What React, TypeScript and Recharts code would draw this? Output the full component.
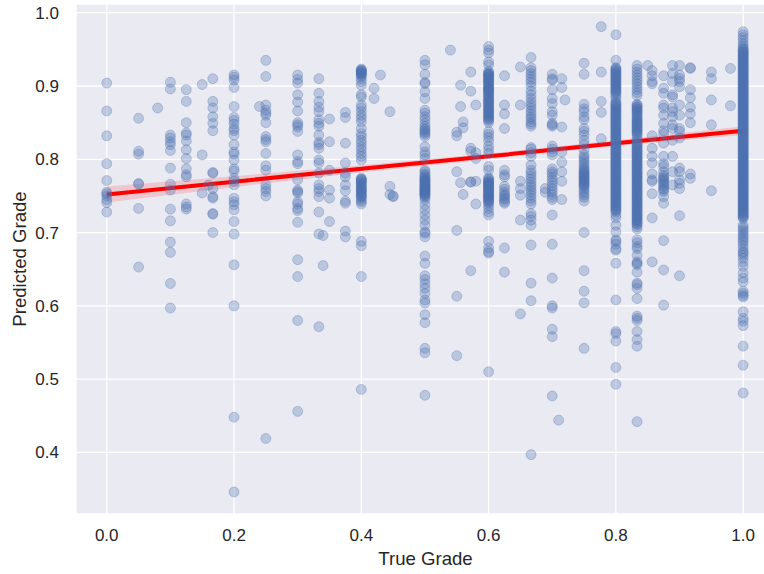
import { ComposedChart, Scatter, Line, Area, XAxis, YAxis, CartesianGrid } from 'recharts'

const X_TICKS = [0, 0.2, 0.4, 0.6, 0.8, 1]
const Y_TICKS = [0.4, 0.5, 0.6, 0.7, 0.8, 0.9, 1]

// predicted grades, one list per true grade
const g000 = [0.904, 0.866, 0.832, 0.794, 0.771, 0.755, 0.753, 0.75, 0.745, 0.741, 0.728]
const g005 = [0.856, 0.811, 0.807, 0.767, 0.766, 0.733, 0.653]
const g008 = [0.87]
const g010 = [0.905, 0.896, 0.833, 0.829, 0.824, 0.82, 0.812, 0.788, 0.766, 0.758, 0.732, 0.716, 0.687, 0.673, 0.6305, 0.597]
const g0125 = [0.895, 0.879, 0.85, 0.836, 0.833, 0.825, 0.813, 0.801, 0.787, 0.779, 0.776, 0.739, 0.735, 0.732]
const g015 = [0.902, 0.806, 0.754]
const g016 = [0.765]
const g0167 = [0.91, 0.879, 0.87, 0.858, 0.849, 0.839, 0.782, 0.781, 0.76, 0.749, 0.747, 0.726, 0.725, 0.7]
const g020 = [0.915, 0.912, 0.908, 0.898, 0.872, 0.857, 0.853, 0.848, 0.842, 0.839, 0.833, 0.82, 0.81, 0.807, 0.799, 0.787, 0.784, 0.774, 0.77, 0.765, 0.747, 0.742, 0.738, 0.731, 0.715, 0.698, 0.656, 0.6, 0.448, 0.346]
const g024 = [0.872]
const g025 = [0.935, 0.913, 0.874, 0.867, 0.863, 0.86, 0.85, 0.831, 0.827, 0.824, 0.808, 0.791, 0.785, 0.765, 0.76, 0.756, 0.75, 0.419]
const g030 = [0.915, 0.909, 0.904, 0.888, 0.878, 0.866, 0.85, 0.847, 0.844, 0.838, 0.806, 0.797, 0.794, 0.772, 0.758, 0.756, 0.754, 0.742, 0.739, 0.733, 0.73, 0.714, 0.663, 0.64, 0.58, 0.456]
const g0333 = [0.91, 0.89, 0.879, 0.871, 0.865, 0.854, 0.849, 0.845, 0.833, 0.823, 0.82, 0.815, 0.799, 0.795, 0.781, 0.765, 0.76, 0.756, 0.749, 0.728, 0.698, 0.5715]
const g034 = [0.696, 0.655]
const g035 = [0.855, 0.824, 0.785, 0.758, 0.747, 0.715]
const g0375 = [0.864, 0.857, 0.822, 0.795, 0.781, 0.776, 0.765, 0.757, 0.743, 0.74, 0.702, 0.694]
const g040 = [0.923, 0.922, 0.921, 0.92, 0.919, 0.918, 0.917, 0.916, 0.915, 0.913, 0.91, 0.906, 0.901, 0.888, 0.885, 0.874, 0.87, 0.865, 0.86, 0.856, 0.851, 0.842, 0.835, 0.831, 0.826, 0.822, 0.817, 0.813, 0.808, 0.804, 0.799, 0.774, 0.773, 0.772, 0.771, 0.77, 0.768, 0.767, 0.765, 0.764, 0.762, 0.76, 0.759, 0.758, 0.756, 0.755, 0.753, 0.751, 0.75, 0.749, 0.747, 0.744, 0.742, 0.739, 0.688, 0.682, 0.64, 0.486]
const g042 = [0.897, 0.883]
const g043 = [0.915]
const g0445 = [0.865, 0.763, 0.752]
const g045 = [0.75, 0.749]
const g050 = [0.935, 0.929, 0.916, 0.905, 0.903, 0.892, 0.883, 0.867, 0.863, 0.858, 0.854, 0.849, 0.845, 0.842, 0.84, 0.838, 0.836, 0.834, 0.831, 0.817, 0.81, 0.806, 0.801, 0.785, 0.783, 0.78, 0.778, 0.776, 0.775, 0.773, 0.772, 0.771, 0.77, 0.769, 0.768, 0.766, 0.765, 0.764, 0.763, 0.762, 0.761, 0.76, 0.759, 0.758, 0.757, 0.756, 0.755, 0.754, 0.753, 0.752, 0.751, 0.75, 0.748, 0.745, 0.738, 0.731, 0.724, 0.717, 0.71, 0.701, 0.699, 0.694, 0.668, 0.658, 0.641, 0.636, 0.63, 0.624, 0.617, 0.608, 0.604, 0.588, 0.577, 0.542, 0.536, 0.478]
const g054 = [0.949]
const g055 = [0.837, 0.832, 0.783, 0.703, 0.613, 0.532]
const g0556 = [0.901, 0.872, 0.768]
const g056 = [0.851, 0.843, 0.752]
const g0572 = [0.919, 0.893, 0.815, 0.811, 0.769, 0.769, 0.648]
const g058 = [0.874, 0.809, 0.801, 0.77, 0.739]
const g060 = [0.954, 0.949, 0.945, 0.933, 0.929, 0.92, 0.918, 0.917, 0.916, 0.915, 0.914, 0.913, 0.912, 0.91, 0.909, 0.908, 0.907, 0.906, 0.904, 0.903, 0.901, 0.9, 0.898, 0.897, 0.896, 0.895, 0.894, 0.893, 0.891, 0.89, 0.888, 0.887, 0.885, 0.883, 0.882, 0.88, 0.879, 0.877, 0.876, 0.874, 0.872, 0.871, 0.869, 0.868, 0.866, 0.865, 0.863, 0.862, 0.86, 0.859, 0.857, 0.856, 0.854, 0.853, 0.85, 0.838, 0.834, 0.83, 0.825, 0.818, 0.813, 0.808, 0.79, 0.785, 0.775, 0.773, 0.772, 0.77, 0.769, 0.768, 0.767, 0.766, 0.765, 0.764, 0.763, 0.762, 0.76, 0.759, 0.758, 0.757, 0.756, 0.755, 0.753, 0.752, 0.751, 0.75, 0.749, 0.748, 0.747, 0.745, 0.744, 0.743, 0.742, 0.74, 0.737, 0.733, 0.728, 0.724, 0.688, 0.679, 0.674, 0.672, 0.51]
const g0625 = [0.914, 0.874, 0.862, 0.842, 0.785, 0.779, 0.776, 0.763, 0.759, 0.755, 0.752, 0.75, 0.747, 0.745, 0.742, 0.74, 0.679, 0.646]
const g065 = [0.926, 0.874, 0.77, 0.76, 0.751, 0.717, 0.589]
const g0667 = [0.939, 0.925, 0.921, 0.917, 0.913, 0.909, 0.905, 0.9, 0.893, 0.888, 0.883, 0.878, 0.874, 0.87, 0.866, 0.862, 0.858, 0.855, 0.851, 0.848, 0.845, 0.816, 0.814, 0.809, 0.804, 0.792, 0.785, 0.781, 0.777, 0.773, 0.769, 0.765, 0.762, 0.758, 0.755, 0.751, 0.747, 0.743, 0.739, 0.726, 0.722, 0.717, 0.71, 0.683, 0.631, 0.607, 0.397]
const g069 = [0.76, 0.755]
const g070 = [0.916, 0.91, 0.908, 0.895, 0.883, 0.876, 0.865, 0.86, 0.849, 0.847, 0.845, 0.818, 0.814, 0.81, 0.806, 0.787, 0.783, 0.78, 0.776, 0.772, 0.768, 0.764, 0.76, 0.756, 0.752, 0.748, 0.745, 0.724, 0.684, 0.638, 0.6, 0.597, 0.568, 0.558, 0.477]
const g071 = [0.444]
const g0715 = [0.91, 0.898, 0.844, 0.81, 0.796, 0.783, 0.77, 0.745]
const g072 = [0.881]
const g075 = [0.931, 0.916, 0.875, 0.869, 0.865, 0.858, 0.854, 0.842, 0.838, 0.833, 0.826, 0.82, 0.813, 0.806, 0.803, 0.8, 0.797, 0.794, 0.791, 0.788, 0.786, 0.784, 0.782, 0.781, 0.779, 0.778, 0.776, 0.775, 0.773, 0.772, 0.77, 0.769, 0.767, 0.766, 0.764, 0.763, 0.76, 0.757, 0.754, 0.751, 0.748, 0.743, 0.7, 0.648, 0.62, 0.604, 0.542]
const g0777 = [0.981, 0.919, 0.879, 0.864, 0.828]
const g080 = [0.97, 0.935, 0.925, 0.922, 0.919, 0.916, 0.913, 0.91, 0.907, 0.904, 0.901, 0.898, 0.895, 0.892, 0.889, 0.886, 0.883, 0.878, 0.875, 0.872, 0.869, 0.866, 0.863, 0.86, 0.857, 0.854, 0.851, 0.848, 0.845, 0.842, 0.839, 0.836, 0.833, 0.83, 0.827, 0.824, 0.821, 0.818, 0.815, 0.812, 0.809, 0.806, 0.803, 0.8, 0.797, 0.794, 0.791, 0.788, 0.785, 0.782, 0.779, 0.776, 0.773, 0.77, 0.767, 0.764, 0.761, 0.758, 0.755, 0.752, 0.749, 0.746, 0.743, 0.74, 0.737, 0.734, 0.731, 0.728, 0.724, 0.72, 0.71, 0.701, 0.69, 0.688, 0.684, 0.678, 0.676, 0.658, 0.608, 0.565, 0.562, 0.552, 0.516, 0.493]
const g080b = [0.924, 0.921, 0.918, 0.915, 0.912, 0.909, 0.906, 0.903, 0.9, 0.897, 0.894, 0.891, 0.877, 0.874, 0.871, 0.868, 0.865, 0.862, 0.859, 0.856, 0.853, 0.85, 0.847, 0.844, 0.841, 0.838, 0.835, 0.832, 0.829, 0.826, 0.823, 0.82, 0.817, 0.814, 0.811, 0.808, 0.805, 0.802, 0.799, 0.796, 0.793, 0.79, 0.787, 0.784, 0.781, 0.778, 0.775, 0.772, 0.769, 0.766, 0.763, 0.76, 0.757, 0.754, 0.751, 0.748, 0.745, 0.742, 0.739, 0.736, 0.733, 0.73]
const g0833 = [0.928, 0.923, 0.919, 0.915, 0.911, 0.907, 0.903, 0.899, 0.895, 0.891, 0.887, 0.875, 0.872, 0.869, 0.866, 0.863, 0.858, 0.854, 0.851, 0.848, 0.845, 0.842, 0.839, 0.836, 0.832, 0.828, 0.825, 0.822, 0.819, 0.816, 0.813, 0.81, 0.807, 0.804, 0.801, 0.798, 0.795, 0.792, 0.789, 0.786, 0.783, 0.78, 0.777, 0.774, 0.771, 0.768, 0.765, 0.762, 0.759, 0.756, 0.753, 0.75, 0.747, 0.744, 0.741, 0.738, 0.735, 0.732, 0.729, 0.726, 0.723, 0.72, 0.717, 0.714, 0.711, 0.708, 0.705, 0.69, 0.686, 0.681, 0.678, 0.669, 0.66, 0.658, 0.656, 0.646, 0.631, 0.629, 0.624, 0.61, 0.586, 0.583, 0.58, 0.565, 0.554, 0.545, 0.442]
const g0833b = [0.874, 0.871, 0.868, 0.865, 0.862, 0.859, 0.856, 0.853, 0.85, 0.847, 0.844, 0.841, 0.838, 0.835, 0.82, 0.817, 0.814, 0.811, 0.808, 0.805, 0.802, 0.799, 0.796, 0.793, 0.79, 0.787, 0.784, 0.781, 0.778, 0.775, 0.772, 0.769, 0.766, 0.763, 0.76, 0.757, 0.754, 0.751, 0.748, 0.745, 0.742, 0.739, 0.736, 0.733, 0.73, 0.727, 0.724, 0.721, 0.718, 0.715, 0.712]
const g085 = [0.928]
const g0857 = [0.921, 0.914, 0.906, 0.903, 0.832, 0.815, 0.804, 0.795, 0.78, 0.772, 0.77, 0.753, 0.72, 0.66]
const g0875 = [0.914, 0.897, 0.89, 0.874, 0.87, 0.86, 0.849, 0.839, 0.835, 0.822, 0.804, 0.794, 0.79, 0.783, 0.778, 0.776, 0.774, 0.772, 0.77, 0.768, 0.765, 0.763, 0.76, 0.758, 0.756, 0.749, 0.74, 0.689, 0.649, 0.601]
const g089 = [0.928, 0.917, 0.906, 0.888, 0.885, 0.87, 0.865, 0.858, 0.847, 0.842, 0.826, 0.804, 0.783, 0.765]
const g090 = [0.928, 0.915, 0.91, 0.906, 0.899, 0.874, 0.86, 0.842, 0.838, 0.829, 0.788, 0.783, 0.772, 0.767, 0.76, 0.723, 0.641]
const g0917 = [0.925, 0.924, 0.895, 0.884, 0.871, 0.862, 0.85, 0.78, 0.774]
const g095 = [0.919, 0.91, 0.881, 0.847, 0.757]
const g098 = [0.924, 0.873]
const g100 = [0.974, 0.97, 0.966, 0.962, 0.958, 0.955, 0.952, 0.949, 0.947, 0.945, 0.943, 0.941, 0.939, 0.937, 0.935, 0.933, 0.931, 0.929, 0.927, 0.925, 0.923, 0.921, 0.919, 0.917, 0.915, 0.913, 0.911, 0.909, 0.907, 0.905, 0.903, 0.901, 0.899, 0.897, 0.895, 0.893, 0.891, 0.889, 0.887, 0.885, 0.883, 0.881, 0.879, 0.877, 0.875, 0.873, 0.871, 0.869, 0.867, 0.865, 0.863, 0.861, 0.859, 0.857, 0.855, 0.853, 0.851, 0.849, 0.847, 0.845, 0.843, 0.841, 0.839, 0.837, 0.835, 0.833, 0.831, 0.829, 0.827, 0.825, 0.823, 0.821, 0.819, 0.817, 0.815, 0.813, 0.811, 0.809, 0.807, 0.805, 0.803, 0.801, 0.799, 0.797, 0.795, 0.793, 0.791, 0.789, 0.787, 0.785, 0.783, 0.781, 0.779, 0.777, 0.775, 0.773, 0.771, 0.769, 0.767, 0.765, 0.763, 0.761, 0.759, 0.757, 0.755, 0.753, 0.751, 0.749, 0.747, 0.745, 0.743, 0.741, 0.739, 0.737, 0.735, 0.733, 0.731, 0.729, 0.727, 0.725, 0.723, 0.721, 0.719, 0.71, 0.707, 0.704, 0.701, 0.698, 0.695, 0.692, 0.689, 0.686, 0.682, 0.678, 0.674, 0.672, 0.669, 0.665, 0.66, 0.654, 0.645, 0.638, 0.633, 0.62, 0.617, 0.614, 0.612, 0.592, 0.583, 0.579, 0.573, 0.545, 0.519, 0.481]
const g100b = [0.95, 0.946, 0.942, 0.938, 0.934, 0.93, 0.926, 0.922, 0.918, 0.914, 0.91, 0.906, 0.902, 0.898, 0.894, 0.89, 0.886, 0.882, 0.878, 0.874, 0.87, 0.866, 0.862, 0.858, 0.854, 0.85, 0.846, 0.842, 0.838, 0.834, 0.83, 0.826, 0.822, 0.818, 0.814, 0.81, 0.806, 0.802, 0.798, 0.794, 0.79, 0.786, 0.782, 0.778, 0.774, 0.77, 0.766, 0.762, 0.758, 0.754, 0.75, 0.746, 0.742, 0.738, 0.734, 0.73, 0.726, 0.722]

const COLUMNS: [number, number[]][] = [
  [0, g000], [0.05, g005], [0.08, g008], [0.1, g010], [0.125, g0125], [0.15, g015], [0.16, g016], [0.1667, g0167],
  [0.2, g020], [0.24, g024], [0.25, g025], [0.3, g030], [0.3333, g0333], [0.34, g034], [0.35, g035], [0.375, g0375],
  [0.4, g040], [0.42, g042], [0.43, g043], [0.445, g0445], [0.45, g045], [0.5, g050], [0.54, g054], [0.55, g055],
  [0.556, g0556], [0.56, g056], [0.572, g0572], [0.58, g058], [0.6, g060], [0.625, g0625], [0.65, g065], [0.6667, g0667],
  [0.689, g069], [0.7, g070], [0.71, g071], [0.715, g0715], [0.72, g072], [0.75, g075], [0.777, g0777], [0.8, g080], [0.8, g080b],
  [0.8333, g0833], [0.8333, g0833b], [0.85, g085], [0.857, g0857], [0.875, g0875], [0.889, g089], [0.9, g090], [0.917, g0917],
  [0.95, g095], [0.98, g098], [1, g100], [1, g100b],
]

const FIT_X = [0, 0.2, 0.4, 0.6, 0.8, 1]
const FIT_Y = [0.752, 0.7695, 0.787, 0.804, 0.822, 0.839]
const FIT_LOW = [0.741, 0.762, 0.782, 0.8, 0.818, 0.833]
const FIT_HIGH = [0.763, 0.777, 0.792, 0.808, 0.826, 0.845]

const points = COLUMNS.flatMap(([x, ys]) => ys.map(y => ({ x, y })))
const fit = FIT_X.map((x, i) => ({ x, y: FIT_Y[i], band: [FIT_LOW[i], FIT_HIGH[i]] }))

const FONT = 'Arial, "Liberation Sans", sans-serif'
const TICK = { fontSize: 17, fill: '#262626', fontFamily: FONT }
const LABEL = { fontSize: 18.6, fill: '#262626', fontFamily: FONT }

function Dot(props: any) {
  return (
    <circle cx={props.cx} cy={props.cy} r={5} fill="#4C72B0" fillOpacity={0.3} stroke="#4C72B0" strokeOpacity={0.3} strokeWidth={1} />
  )
}

export default function App() {
  return (
    <div style={{ width: 764, height: 574, overflow: 'hidden', position: 'absolute', left: 0, top: 0, background: '#fff' }}>
      <ComposedChart width={775} height={574} margin={{ top: 4, right: 0, bottom: 0, left: 0 }} data={fit}>
        <CartesianGrid fill="#EAEAF2" stroke="#fff" strokeWidth={1.3} strokeOpacity={1} />
        <XAxis
          dataKey="x" type="number" domain={[-0.0483, 1.05]} ticks={X_TICKS} height={60} allowDataOverflow
          tickFormatter={(v: number) => v.toFixed(1)} tick={TICK} axisLine={false} tickLine={false} tickMargin={9}
          label={{ value: 'True Grade', position: 'insideBottom', offset: 9, style: LABEL }}
        />
        <YAxis
          dataKey="y" type="number" domain={[0.316, 1.0119]} ticks={Y_TICKS} width={76} allowDataOverflow
          tickFormatter={(v: number) => v.toFixed(1)} tick={TICK} axisLine={false} tickLine={false} tickMargin={11}
          label={{ value: 'Predicted Grade', angle: -90, position: 'insideLeft', offset: 19, style: { ...LABEL, textAnchor: 'middle' } }}
        />
        <Scatter data={points} dataKey="y" shape={Dot} isAnimationActive={false} />
        <Area dataKey="band" type="linear" stroke="none" fill="#ff0000" fillOpacity={0.15} dot={false} activeDot={false} isAnimationActive={false} />
        <Line dataKey="y" type="linear" stroke="#ff0000" strokeWidth={4} dot={false} activeDot={false} isAnimationActive={false} />
      </ComposedChart>
    </div>
  )
}
